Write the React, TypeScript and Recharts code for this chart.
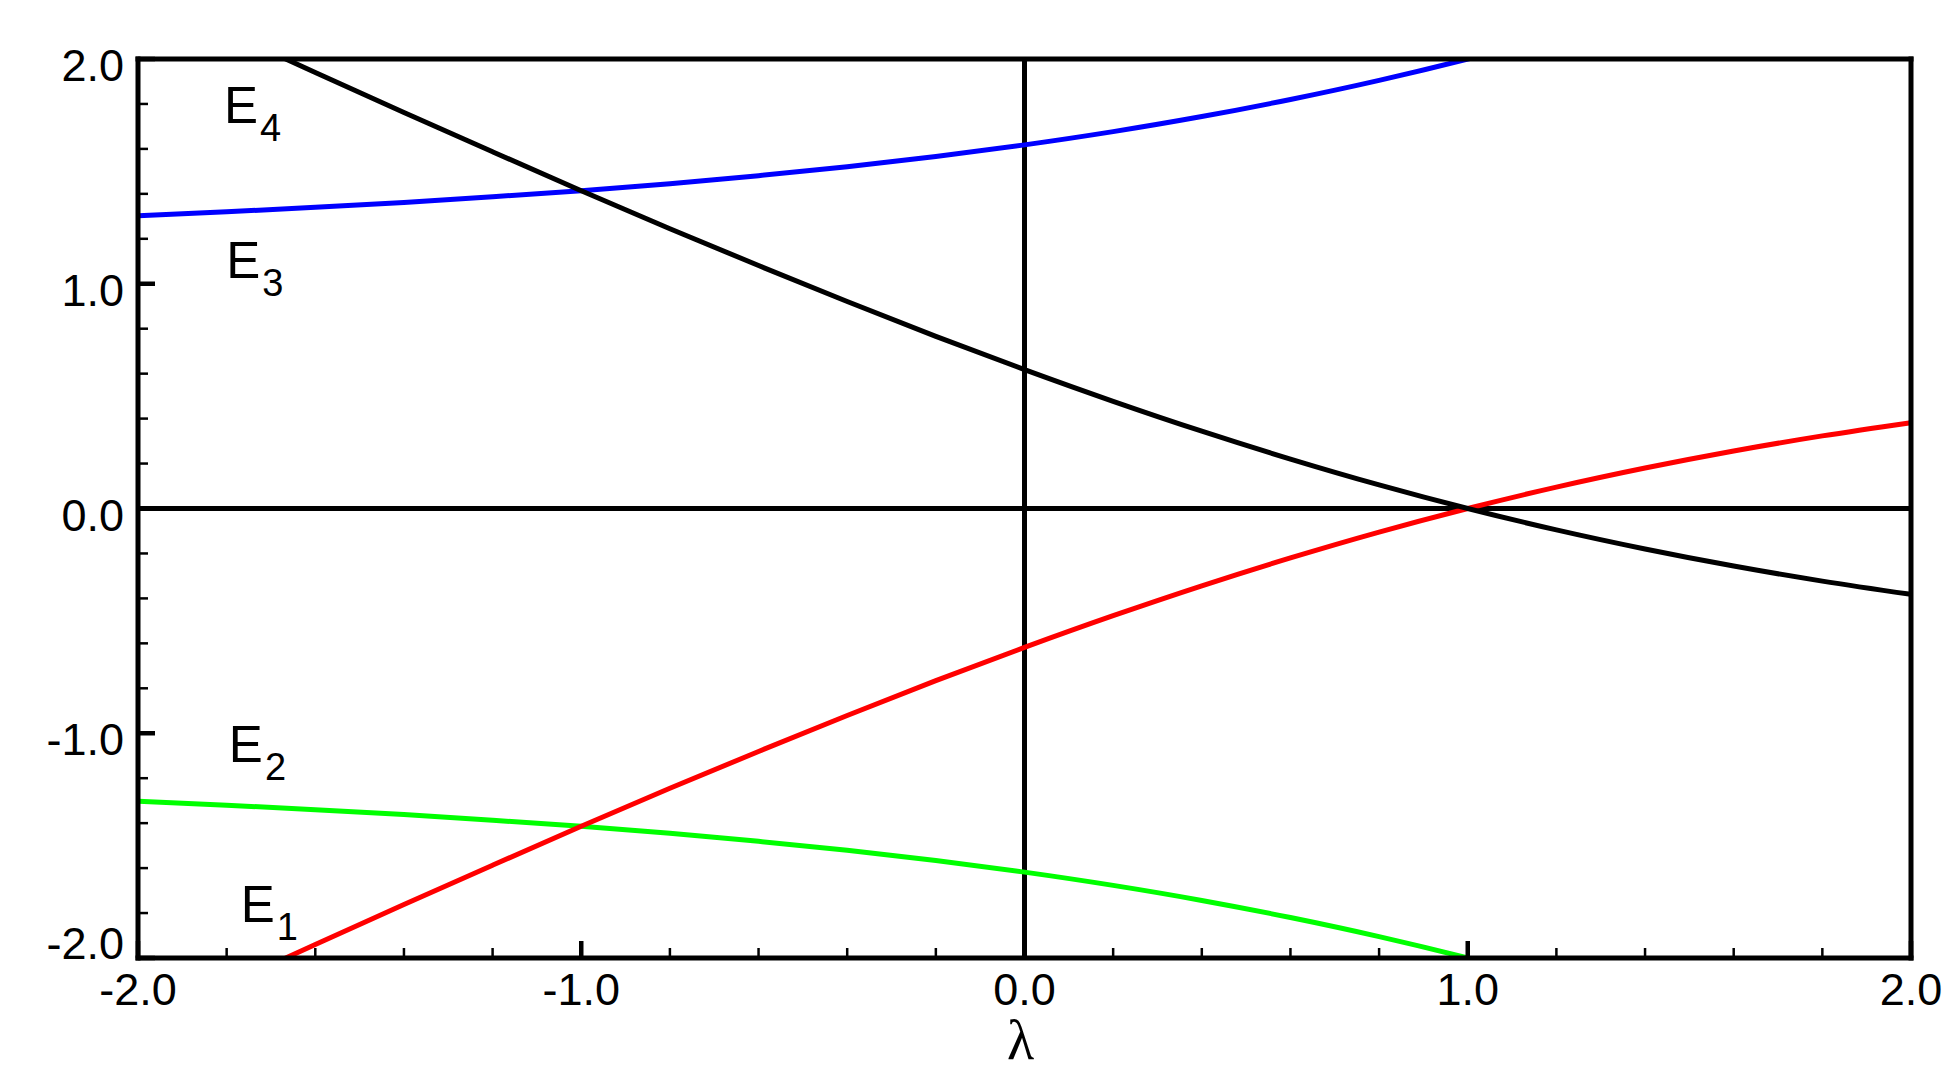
import { LineChart, Line, XAxis, YAxis, ReferenceLine, ReferenceDot } from 'recharts'

// lambda samples and the four energy branches
const lambdas = [-2.0, -1.8, -1.6, -1.4, -1.2, -1.0, -0.8, -0.6, -0.4, -0.2, 0.0, 0.2, 0.4, 0.6, 0.8, 1.0, 1.2, 1.4, 1.6, 1.8, 2.0]
const blueBranch = [1.303, 1.320, 1.340, 1.362, 1.387, 1.414, 1.445, 1.481, 1.521, 1.566, 1.618, 1.677, 1.744, 1.820, 1.905, 2.000, 2.105, 2.220, 2.344, 2.477, 2.618]
const blackBranch = [2.303, 2.120, 1.940, 1.762, 1.587, 1.414, 1.245, 1.081, 0.921, 0.766, 0.618, 0.477, 0.344, 0.220, 0.105, 0.000, -0.095, -0.180, -0.256, -0.323, -0.382]
const redBranch = [-2.303, -2.120, -1.940, -1.762, -1.587, -1.414, -1.245, -1.081, -0.921, -0.766, -0.618, -0.477, -0.344, -0.220, -0.105, 0.000, 0.095, 0.180, 0.256, 0.323, 0.382]
const greenBranch = [-1.303, -1.320, -1.340, -1.362, -1.387, -1.414, -1.445, -1.481, -1.521, -1.566, -1.618, -1.677, -1.744, -1.820, -1.905, -2.000, -2.105, -2.220, -2.344, -2.477, -2.618]

const xTicks = [-2.0, -1.8, -1.6, -1.4, -1.2, -1.0, -0.8, -0.6, -0.4, -0.2, 0.0, 0.2, 0.4, 0.6, 0.8, 1.0, 1.2, 1.4, 1.6, 1.8, 2.0]
const yTicks = [-2.0, -1.8, -1.6, -1.4, -1.2, -1.0, -0.8, -0.6, -0.4, -0.2, 0.0, 0.2, 0.4, 0.6, 0.8, 1.0, 1.2, 1.4, 1.6, 1.8, 2.0]

// level labels: text anchor (baseline-left) in data coords
const levelLabels = [
  { lam: -1.806, e: 1.715, sub: '4' },
  { lam: -1.801, e: 1.026, sub: '3' },
  { lam: -1.795, e: -1.128, sub: '2' },
  { lam: -1.768, e: -1.84, sub: '1' },
]

const rows = lambdas.map((lam, i) => ({
  lam,
  blue: blueBranch[i],
  black: blackBranch[i],
  red: redBranch[i],
  green: greenBranch[i],
}))

const FONT = "'Liberation Sans', Arial, Helvetica, sans-serif"
const isMajor = (v: number) => Math.abs(v - Math.round(v)) < 1e-6

const XTick = ({ x, y, payload }: any) => {
  const v = payload.value
  const major = isMajor(v)
  return (
    <g>
      <line x1={x} x2={x} y1={y} y2={y - (major ? 17 : 10)} stroke="#000" strokeWidth={major ? 4.5 : 2.5} />
      {major && (
        <text x={x} y={y + 47} textAnchor="middle" fontSize={45} fontFamily={FONT} fill="#000">
          {v.toFixed(1)}
        </text>
      )}
    </g>
  )
}

const YTick = ({ x, y, payload }: any) => {
  const v = payload.value
  const major = isMajor(v)
  return (
    <g>
      <line x1={x} x2={x + (major ? 17 : 10)} y1={y} y2={y} stroke="#000" strokeWidth={major ? 4.5 : 2.5} />
      {major && (
        <text x={x - 14} y={y + (v === -2 ? 1 : 22)} textAnchor="end" fontSize={45} fontFamily={FONT} fill="#000">
          {v.toFixed(1)}
        </text>
      )}
    </g>
  )
}

const LevelText = (sub: string) => (p: any) => (
  <text x={p.cx} y={p.cy} fontSize={51} fontFamily={FONT} fill="#000">
    E
    <tspan dx={2} dy={18} fontSize={38}>{sub}</tspan>
  </text>
)

const LambdaLabel = ({ viewBox }: any) => (
  <text
    x={viewBox.x + viewBox.width / 2 - 4}
    y={viewBox.y + 101}
    textAnchor="middle"
    fontSize={56}
    fontFamily="'Liberation Serif', 'Times New Roman', serif"
    fill="#000"
  >
    λ
  </text>
)

export default function App() {
  return (
    <div style={{ position: 'absolute', left: 0, top: 0, width: 1955, height: 1074, background: '#fff' }}>
      <LineChart width={1955} height={1074} data={rows} margin={{ top: 59, right: 44, bottom: 0, left: 0 }}>
        <XAxis
          type="number"
          dataKey="lam"
          domain={[-2, 2]}
          ticks={xTicks}
          height={116}
          axisLine={false}
          tickLine={false}
          tickSize={0}
          tickMargin={0}
          tick={<XTick />}
          interval={0}
          label={<LambdaLabel />}
        />
        <YAxis
          type="number"
          domain={[-2, 2]}
          ticks={yTicks}
          width={138}
          allowDataOverflow
          axisLine={false}
          tickLine={false}
          tickSize={0}
          tickMargin={0}
          tick={<YTick />}
          interval={0}
        />
        <ReferenceLine x={0} stroke="#000" strokeWidth={5} />
        <ReferenceLine y={0} stroke="#000" strokeWidth={5} />
        <Line type="monotone" dataKey="green" stroke="#00ff00" strokeWidth={5} dot={false} activeDot={false} isAnimationActive={false} />
        <Line type="monotone" dataKey="red" stroke="#ff0000" strokeWidth={5} dot={false} activeDot={false} isAnimationActive={false} />
        <Line type="monotone" dataKey="blue" stroke="#0000ff" strokeWidth={5} dot={false} activeDot={false} isAnimationActive={false} />
        <Line type="monotone" dataKey="black" stroke="#000" strokeWidth={5} dot={false} activeDot={false} isAnimationActive={false} />
        <ReferenceLine x={-2} stroke="#000" strokeWidth={5} strokeLinecap="square" />
        <ReferenceLine x={2} stroke="#000" strokeWidth={5} strokeLinecap="square" />
        <ReferenceLine y={-2} stroke="#000" strokeWidth={5} strokeLinecap="square" />
        <ReferenceLine y={2} stroke="#000" strokeWidth={5} strokeLinecap="square" />
        {levelLabels.map((l) => (
          <ReferenceDot key={l.sub} x={l.lam} y={l.e} r={0} shape={LevelText(l.sub)} />
        ))}
      </LineChart>
    </div>
  )
}
